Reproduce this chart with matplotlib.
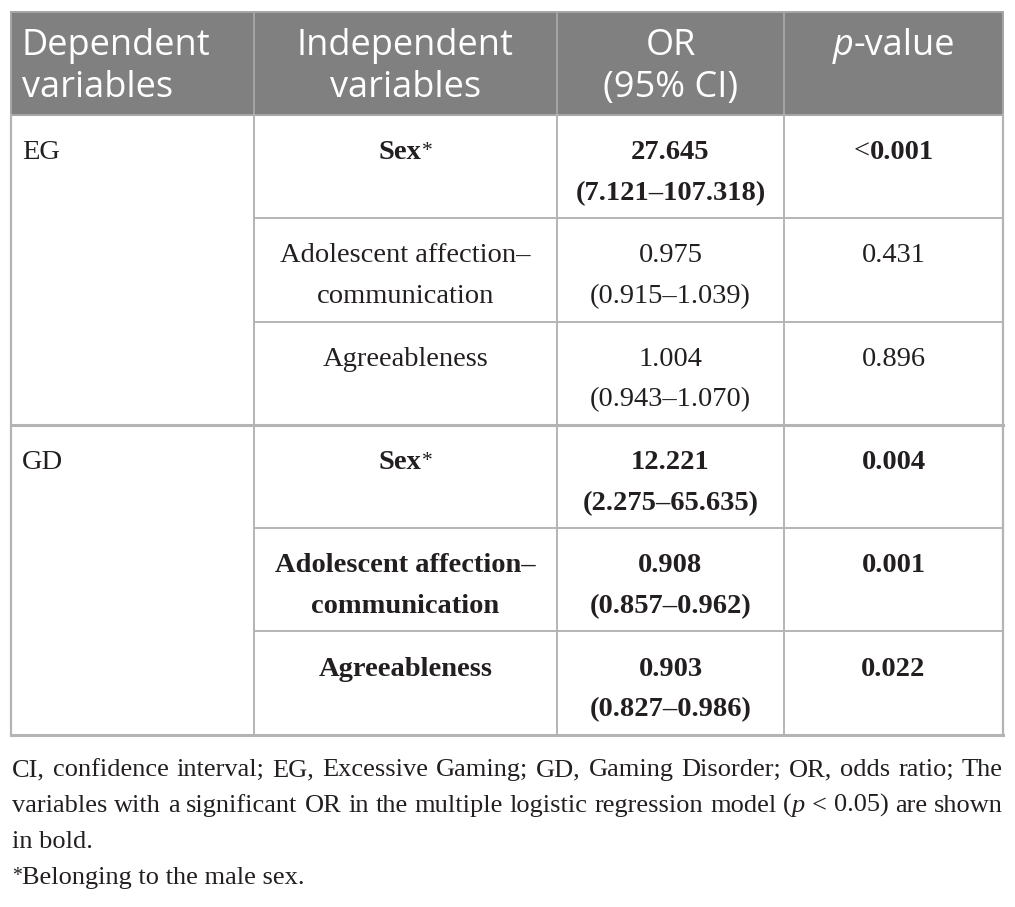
import matplotlib
matplotlib.use("Agg")
import matplotlib.pyplot as plt
from matplotlib.patches import Rectangle

# ---------------- data ----------------
header_labels = [["Dependent", "variables"], ["Independent", "variables"],
                 ["OR", "(95% CI)"], ["p-value"]]
groups = ["EG", "GD"]
independent_vars = [["Sex"], ["Adolescent affection–", "communication"], ["Agreeableness"]]
male_marker = [True, False, False]
or_est = [["27.645", "0.975", "1.004"], ["12.221", "0.908", "0.903"]]
ci_low = [["7.121", "0.915", "0.943"], ["2.275", "0.857", "0.827"]]
ci_high = [["107.318", "1.039", "1.070"], ["65.635", "0.962", "0.986"]]
p_vals = [["<0.001", "0.431", "0.896"], ["0.004", "0.001", "0.022"]]
significant = [[True, False, False], [True, True, True]]
footnote_1 = "CI, confidence interval; EG, Excessive Gaming; GD, Gaming Disorder; OR, odds ratio; The"
footnote_2a = "variables with a significant OR in the multiple logistic regression model ("
footnote_2b = "p"
footnote_2c = " < 0.05) are shown"
footnote_3 = "in bold."
footnote_4 = "Belonging to the male sex."

# ---------------- layout ----------------
W, H = 1015, 907
col_edges = [11, 254, 557, 784, 1003]
header_top, header_bot = 12, 115
row_h = 103.3
SANS = "Open Sans"
SERIF = "Liberation Serif"
HEAD_SIZE = 26
BODY_SIZE = 20.5
FOOT_SIZE = 19
TXT = "#231f20"
GRID = "#b4b4b4"

fig = plt.figure(figsize=(W / 100, H / 100), dpi=100)
ax = fig.add_axes([0, 0, 1, 1])
ax.set_xlim(0, W)
ax.set_ylim(H, 0)
ax.axis("off")
renderer = fig.canvas.get_renderer()


def width_of(t):
    return t.get_window_extent(renderer).width


def draw_runs(x, y, runs, ha="left"):
    """runs: list of dicts with s, family, size, weight, style, color, dy"""
    objs = []
    for r in runs:
        t = ax.text(0, y + r.get("dy", 0), r["s"], family=r.get("family", SERIF),
                    size=r.get("size", BODY_SIZE), weight=r.get("weight", "normal"),
                    style=r.get("style", "normal"), color=r.get("color", TXT),
                    ha="left", va="baseline")
        objs.append(t)
    ws = [width_of(t) for t in objs]
    total = sum(ws)
    start = x - total / 2 if ha == "center" else x
    cx = start
    for t, w in zip(objs, ws):
        t.set_x(cx)
        cx += w
    return total


def measure_runs(runs):
    tot = 0
    for r in runs:
        t = ax.text(0, 0, r["s"], family=r.get("family", SERIF), size=r.get("size", BODY_SIZE),
                    weight=r.get("weight", "normal"), style=r.get("style", "normal"))
        tot += width_of(t)
        t.remove()
    return tot


def draw_justified(x0, x1, y, words):
    ws = [measure_runs(w) for w in words]
    gap = (x1 - x0 - sum(ws)) / (len(words) - 1)
    cx = x0
    for w, wd in zip(words, ws):
        draw_runs(cx, y, w)
        cx += wd + gap


# ---------------- header ----------------
ax.add_patch(Rectangle((col_edges[0], header_top), col_edges[-1] - col_edges[0],
                       header_bot - header_top, facecolor="#808080",
                       edgecolor="#a6a6a6", lw=1.4, zorder=1))
for xe in col_edges[1:-1]:
    ax.plot([xe, xe], [header_top, header_bot], color="#a6a6a6", lw=1.4, zorder=2)

head_base = [header_top + 43, header_top + 85]
for ci, lines in enumerate(header_labels):
    for li, s in enumerate(lines):
        if ci == 0:
            x, ha = col_edges[0] + 11, "left"
        else:
            x, ha = (col_edges[ci] + col_edges[ci + 1]) / 2, "center"
        if s == "p-value":
            runs = [dict(s="p", family=SANS, size=HEAD_SIZE, style="italic", color="white"),
                    dict(s="-value", family=SANS, size=HEAD_SIZE, color="white")]
        else:
            runs = [dict(s=s, family=SANS, size=HEAD_SIZE, color="white")]
        draw_runs(x, head_base[li], runs, ha=ha)

# ---------------- body ----------------
n_rows = len(independent_vars)
for g, gname in enumerate(groups):
    g_top = header_bot + g * n_rows * row_h
    ax.text(col_edges[0] + 11, g_top + 44, gname, family=SERIF, size=BODY_SIZE,
            color=TXT, ha="left", va="baseline")
    for r in range(n_rows):
        top = g_top + r * row_h
        wt = "bold" if significant[g][r] else "normal"
        b1, b2 = top + 44, top + 85
        c2 = (col_edges[1] + col_edges[2]) / 2
        c3 = (col_edges[2] + col_edges[3]) / 2
        c4 = (col_edges[3] + col_edges[4]) / 2
        for li, s in enumerate(independent_vars[r]):
            runs = [dict(s=s, weight=wt)]
            if male_marker[r]:
                runs.append(dict(s="*", size=BODY_SIZE * 0.75, dy=-3))
            draw_runs(c2, [b1, b2][li], runs, ha="center")
        draw_runs(c3, b1, [dict(s=or_est[g][r], weight=wt)], ha="center")
        draw_runs(c3, b2, [dict(s=f"({ci_low[g][r]}–{ci_high[g][r]})", weight=wt)], ha="center")
        pv = p_vals[g][r]
        if pv.startswith("<"):
            draw_runs(c4, b1, [dict(s="<", weight="normal"), dict(s=pv[1:], weight=wt)], ha="center")
        else:
            draw_runs(c4, b1, [dict(s=pv, weight=wt)], ha="center")
        y_line = top + row_h
        if r < n_rows - 1:
            ax.plot([col_edges[1], col_edges[-1]], [y_line, y_line], color=GRID, lw=1.4)
        else:
            ax.plot([col_edges[0], col_edges[-1]], [y_line, y_line], color=GRID, lw=2.2)

body_bot = header_bot + len(groups) * n_rows * row_h
for xe in col_edges:
    ax.plot([xe, xe], [header_bot, body_bot], color=GRID,
            lw=1.4 if xe not in (col_edges[0], col_edges[-1]) else 1.6)

# ---------------- footnotes ----------------
fx0, fx1 = 12, 1003
fb = [776, 812, 848, 884]
fs = dict(family=SERIF, size=FOOT_SIZE)
words1 = [[dict(s=w, **fs)] for w in footnote_1.split(" ")]
draw_justified(fx0, fx1, fb[0], words1)
words2 = [[dict(s=w, **fs)] for w in footnote_2a.split(" ")]
last = words2.pop()  # "("
words2.append([dict(s=last[0]["s"], **fs), dict(s=footnote_2b, style="italic", **fs)])
words2 += [[dict(s=w, **fs)] for w in footnote_2c.strip().split(" ")]
draw_justified(fx0, fx1, fb[1], words2)
draw_runs(fx0, fb[2], [dict(s=footnote_3, **fs)])
draw_runs(fx0, fb[3], [dict(s="*", family=SERIF, size=FOOT_SIZE * 0.75, dy=-3),
                       dict(s=footnote_4, **fs)])

fig.savefig("out.png", dpi=100, facecolor="white")
